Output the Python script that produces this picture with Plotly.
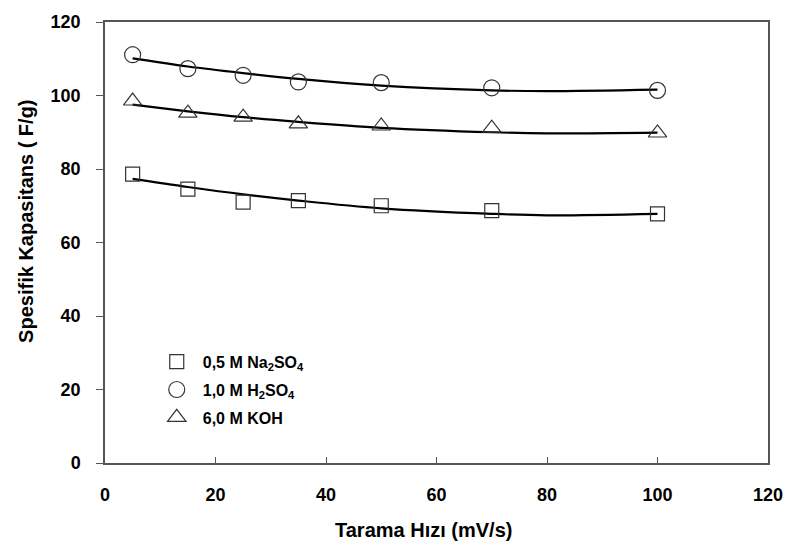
import plotly.graph_objects as go

# scan rate (mV/s)
scan_rate = [5, 15, 25, 35, 50, 70, 100]

# measured specific capacitance (F/g)
na2so4 = [78.6, 74.5, 71.0, 71.4, 70.0, 68.7, 67.8]
h2so4 = [111.1, 107.3, 105.5, 103.7, 103.5, 102.1, 101.4]
koh = [98.5, 95.2, 94.1, 92.3, 91.7, 91.1, 89.8]

# fitted curves
fit_x = [5, 15, 25, 35, 50, 70, 80, 100]
na2so4_fit = [77.3, 75.1, 73.1, 71.4, 69.3, 67.8, 67.4, 67.8]
h2so4_fit = [110.1, 107.9, 106.1, 104.5, 102.7, 101.4, 101.2, 101.6]
koh_fit = [97.5, 95.7, 94.1, 92.8, 91.2, 90.0, 89.7, 89.9]

labels = ["0,5 M Na<sub>2</sub>SO<sub>4</sub>",
          "1,0 M H<sub>2</sub>SO<sub>4</sub>",
          "6,0 M KOH"]
symbols = ["square-open", "circle-open", "triangle-up-open"]
sizes = [14, 16, 16]

fig = go.Figure()

for fy in [na2so4_fit, h2so4_fit, koh_fit]:
    fig.add_trace(go.Scatter(
        x=fit_x, y=fy, mode='lines', line_shape='spline',
        line=dict(color='black', width=2.2),
        showlegend=False, hoverinfo='skip'
    ))

for i, ys in enumerate([na2so4, h2so4, koh]):
    fig.add_trace(go.Scatter(
        x=scan_rate, y=ys, mode='markers', name=labels[i],
        legendgroup=str(i),
        marker=dict(symbol=symbols[i], size=sizes[i], color='#333333',
                    line=dict(color='#333333', width=1.2)),
    ))

tick_font = dict(family="Arial", size=18, color="black", weight="bold")
title_font = dict(family="Arial", size=20, color="black", weight="bold")

# axis titles as annotations, placed like in the original
fig.add_annotation(text="Tarama Hızı (mV/s)", xref='paper', yref='paper',
                   x=0.481, y=-0.152, showarrow=False, font=title_font,
                   xanchor='center', yanchor='middle')
fig.add_annotation(text="Spesifik Kapasitans ( F/g)", xref='paper', yref='paper',
                   x=-0.119, y=0.547, showarrow=False, font=title_font,
                   textangle=-90, xanchor='center', yanchor='middle')

fig.update_layout(
    width=795, height=548,
    margin=dict(l=105, r=18, t=17, b=85),
    plot_bgcolor='white', paper_bgcolor='white',
    font=dict(family="Arial", color="black"),
    legend=dict(
        x=0.069, y=0.268, xanchor='left', yanchor='top',
        font=dict(family="Arial", size=16, color="black", weight="bold"),
        traceorder='grouped', tracegroupgap=4, itemwidth=42,
        bgcolor='rgba(0,0,0,0)',
    ),
    xaxis=dict(
        range=[0, 120], tickvals=[0, 20, 40, 60, 80, 100, 120],
        showgrid=False, zeroline=False,
        showline=True, linecolor='#555555', linewidth=1.5, mirror=True,
        ticks='inside', ticklen=6, tickcolor='#555555',
        tickfont=tick_font, ticklabelstandoff=15, ticklabeloverflow='allow',
    ),
    yaxis=dict(
        range=[0, 120], tickvals=[0, 20, 40, 60, 80, 100, 120],
        showgrid=False, zeroline=False,
        showline=True, linecolor='#555555', linewidth=1.5, mirror=True,
        ticks='outside', ticklen=7, tickcolor='#555555',
        tickfont=tick_font, ticklabelstandoff=12,
    ),
)

fig.write_html("out.html", config={'displayModeBar': False},
               post_script="document.body.style.margin='0';")
